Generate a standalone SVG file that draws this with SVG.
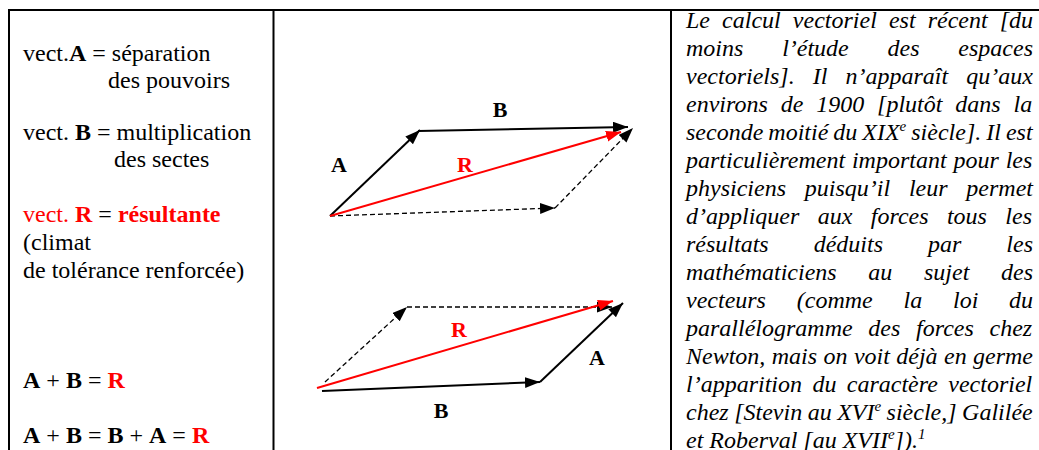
<svg xmlns="http://www.w3.org/2000/svg" width="1039" height="450" viewBox="0 0 1039 450">
<style>
.t{font-family:"Liberation Serif","Times New Roman",serif;font-size:24px;fill:#000}
.b{font-weight:bold}
.red{fill:#ff0000}
.it{font-family:"Liberation Serif","Times New Roman",serif;font-size:24px;font-style:italic;fill:#000}
.lbl{font-family:"Liberation Serif","Times New Roman",serif;font-size:22px;font-weight:bold;text-anchor:middle}
.grid{stroke:#000;stroke-width:2;fill:none}
.vb{stroke:#000;stroke-width:2;fill:none;marker-end:url(#ab)}
.vr{stroke:#ff0000;stroke-width:2;fill:none;marker-end:url(#ar)}
.vd{stroke:#000;stroke-width:1.3;stroke-dasharray:5,3;fill:none;marker-end:url(#ab)}
</style>
<defs>
<marker id="ab" markerUnits="userSpaceOnUse" markerWidth="16" markerHeight="12" refX="15" refY="5.5" orient="auto"><path d="M0,0 L15,5.5 L0,11 z" fill="#000"/></marker>
<marker id="ar" markerUnits="userSpaceOnUse" markerWidth="16" markerHeight="12" refX="15" refY="5.5" orient="auto"><path d="M0,0 L15,5.5 L0,11 z" fill="#ff0000"/></marker>
</defs>
<rect width="1039" height="450" fill="#fff"/>
<g id="table" class="grid">
<line x1="8" y1="10" x2="1039" y2="10"/>
<line x1="9" y1="9" x2="9" y2="450"/>
<line x1="273.5" y1="9" x2="273.5" y2="450"/>
<line x1="671" y1="9" x2="671" y2="450"/>
</g>
<g id="left-text">
<text class="t" x="23" y="61">vect.<tspan class="b">A</tspan> = séparation</text>
<text class="t" x="108" y="88">des pouvoirs</text>
<text class="t" x="23" y="140">vect. <tspan class="b">B</tspan> = multiplication</text>
<text class="t" x="114" y="167">des sectes</text>
<text class="t" x="23" y="222"><tspan class="red">vect. </tspan><tspan class="b red">R</tspan> = <tspan class="b red">résultante</tspan></text>
<text class="t" x="23" y="250">(climat</text>
<text class="t" x="23" y="278">de tolérance renforcée)</text>
<text class="t" x="23" y="388"><tspan class="b">A</tspan> + <tspan class="b">B</tspan> = <tspan class="b red">R</tspan></text>
<text class="t" x="23" y="443"><tspan class="b">A</tspan> + <tspan class="b">B</tspan> = <tspan class="b">B</tspan> + <tspan class="b">A</tspan> = <tspan class="b red">R</tspan></text>
</g>
<g id="connectors">
<line class="vb" x1="330" y1="216" x2="420" y2="130"/>
<line class="vb" x1="418" y1="131" x2="628" y2="127"/>
<line class="vd" x1="330" y1="216" x2="555" y2="208"/>
<line class="vd" x1="555" y1="208" x2="633" y2="128"/>
<line class="vr" x1="330" y1="216" x2="621" y2="132"/>
<line class="vb" x1="322" y1="391" x2="540" y2="382"/>
<line class="vb" x1="540" y1="382" x2="623" y2="303"/>
<line class="vd" x1="325" y1="382" x2="407" y2="307"/>
<line class="vd" x1="407" y1="307" x2="612" y2="307"/>
<line class="vr" x1="317" y1="388" x2="613" y2="301"/>
</g>
<g id="diagram-top-labels">
<text class="lbl" x="339" y="172">A</text>
<text class="lbl" x="500" y="117">B</text>
<text class="lbl red" x="465" y="172">R</text>
</g>
<g id="diagram-bottom-labels">
<text class="lbl red" x="459" y="337">R</text>
<text class="lbl" x="597" y="365">A</text>
<text class="lbl" x="441" y="418">B</text>
</g>
<g id="right-text">
<text class="it" x="686" y="28" word-spacing="6.1">Le calcul vectoriel est récent [du</text>
<text class="it" x="686" y="56" word-spacing="32.8">moins l’étude des espaces</text>
<text class="it" x="686" y="84" word-spacing="12.1">vectoriels]. Il n’apparaît qu’aux</text>
<text class="it" x="686" y="112" word-spacing="6.9">environs de 1900 [plutôt dans la</text>
<text class="it" x="686" y="140" word-spacing="-1">seconde moitié du XIX<tspan font-size="15" dy="-9">e</tspan><tspan dy="9"> siècle]. Il est</tspan></text>
<text class="it" x="686" y="168" word-spacing="0.85">particulièrement important pour les</text>
<text class="it" x="686" y="196" word-spacing="12.8">physiciens puisqu’il leur permet</text>
<text class="it" x="686" y="224" word-spacing="12.4">d’appliquer aux forces tous les</text>
<text class="it" x="686" y="252" word-spacing="39">résultats déduits par les</text>
<text class="it" x="686" y="280" word-spacing="25.7">mathématiciens au sujet des</text>
<text class="it" x="686" y="308" word-spacing="24.8">vecteurs (comme la loi du</text>
<text class="it" x="686" y="336" word-spacing="9.7">parallélogramme des forces chez</text>
<text class="it" x="686" y="364" word-spacing="0.4">Newton, mais on voit déjà en germe</text>
<text class="it" x="686" y="392" word-spacing="4.4">l’apparition du caractère vectoriel</text>
<text class="it" x="686" y="420" word-spacing="-0.5">chez [Stevin au XVI<tspan font-size="15" dy="-9">e</tspan><tspan dy="9"> siècle,] Galilée</tspan></text>
<text class="it" x="686" y="448">et Roberval [au XVII<tspan font-size="15" dy="-9">e</tspan><tspan dy="9">]).</tspan><tspan font-size="15" dy="-9">1</tspan></text>
</g>
</svg>
